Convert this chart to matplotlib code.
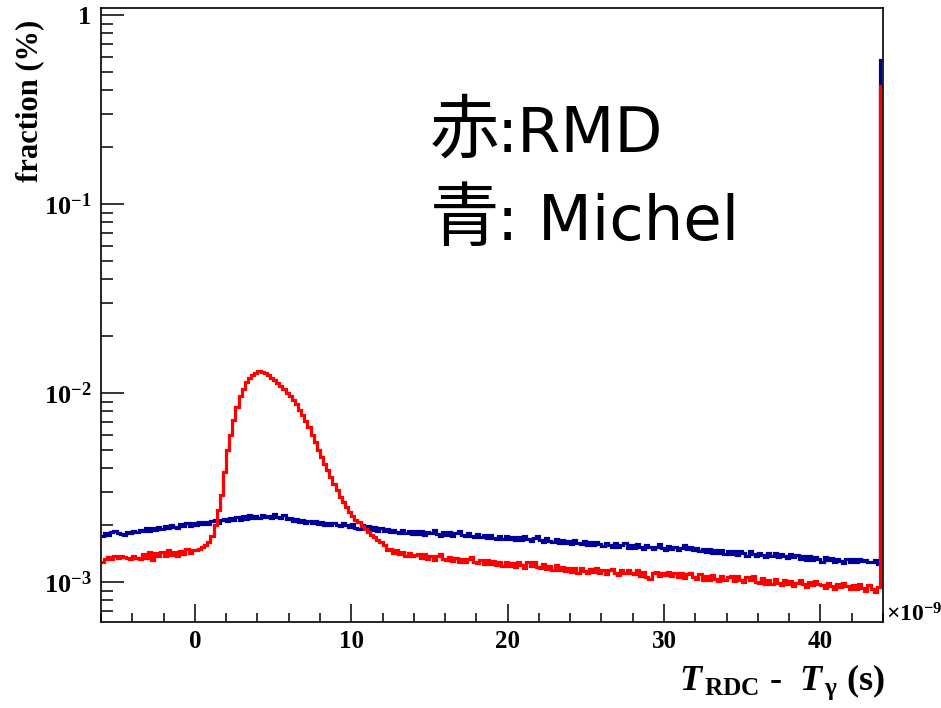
import matplotlib

matplotlib.use("Agg")

import matplotlib.pyplot as plt
import numpy as np
from matplotlib.ticker import LogLocator, MultipleLocator, NullFormatter

# histogram range in units of 1e-9 s, 0.2 ns bins
t_lo = -6.0
t_hi = 44.0

# fraction (%) per bin, in units of 1e-3; the last bin is the overflow spike
michel = [
    1.76, 1.81, 1.78, 1.84, 1.86, 1.81, 1.79, 1.78, 1.84, 1.82,
    1.87, 1.83, 1.89, 1.85, 1.92, 1.86, 1.93, 1.88, 1.95, 1.91,
    1.97, 1.92, 1.99, 1.96, 1.93, 2.02, 1.97, 2.04, 1.98, 2.05,
    2.00, 2.07, 2.02, 2.08, 2.03, 2.10, 2.13, 2.06, 2.14, 2.16,
    2.11, 2.18, 2.12, 2.21, 2.14, 2.23, 2.16, 2.25, 2.17, 2.24,
    2.19, 2.27, 2.20, 2.24, 2.18, 2.28, 2.21, 2.19, 2.26, 2.16,
    2.18, 2.10, 2.15, 2.08, 2.12, 2.06, 2.11, 2.04, 2.09, 2.03,
    2.07, 2.01, 2.05, 1.99, 2.05, 2.01, 1.97, 2.04, 1.99, 1.95,
    2.02, 1.94, 1.91, 2.00, 1.92, 1.97, 1.89, 1.95, 1.87, 1.93,
    1.85, 1.91, 1.84, 1.89, 1.83, 1.81, 1.88, 1.82, 1.87, 1.80,
    1.86, 1.79, 1.85, 1.78, 1.84, 1.81, 1.88, 1.80, 1.76, 1.83,
    1.78, 1.83, 1.75, 1.81, 1.85, 1.77, 1.74, 1.81, 1.76, 1.73,
    1.79, 1.72, 1.78, 1.71, 1.77, 1.70, 1.68, 1.75, 1.69, 1.74,
    1.68, 1.73, 1.67, 1.72, 1.66, 1.74, 1.68, 1.65, 1.71, 1.75,
    1.67, 1.63, 1.70, 1.64, 1.62, 1.68, 1.61, 1.66, 1.60, 1.65,
    1.59, 1.66, 1.61, 1.58, 1.64, 1.57, 1.63, 1.56, 1.62, 1.59,
    1.55, 1.61, 1.57, 1.54, 1.60, 1.53, 1.57, 1.61, 1.52, 1.56,
    1.51, 1.58, 1.54, 1.50, 1.57, 1.53, 1.49, 1.53, 1.58, 1.51,
    1.48, 1.55, 1.50, 1.54, 1.47, 1.52, 1.56, 1.49, 1.53, 1.47,
    1.52, 1.46, 1.50, 1.44, 1.49, 1.43, 1.48, 1.42, 1.47, 1.41,
    1.46, 1.40, 1.45, 1.39, 1.46, 1.42, 1.38, 1.45, 1.41, 1.37,
    1.43, 1.39, 1.36, 1.42, 1.38, 1.43, 1.35, 1.41, 1.37, 1.34,
    1.40, 1.35, 1.39, 1.32, 1.38, 1.31, 1.37, 1.30, 1.36, 1.32,
    1.28, 1.35, 1.30, 1.34, 1.27, 1.33, 1.29, 1.26, 1.32, 1.28,
    1.32, 1.28, 1.33, 1.29, 1.31, 1.28, 1.27, 1.30, 1.25, 578.0,
]

rmd = [
    1.27, 1.33, 1.36, 1.33, 1.37, 1.34, 1.38, 1.35, 1.34, 1.32,
    1.37, 1.34, 1.32, 1.40, 1.34, 1.44, 1.30, 1.42, 1.37, 1.44,
    1.38, 1.47, 1.39, 1.44, 1.38, 1.45, 1.40, 1.50, 1.43, 1.48,
    1.48, 1.50, 1.53, 1.57, 1.63, 1.75, 2.00, 2.40, 2.90, 3.80,
    5.00, 6.00, 7.20, 8.40, 9.60, 10.5, 11.4, 12.0, 12.5, 12.8,
    13.0, 12.95, 12.7, 12.4, 12.0, 11.7, 11.3, 10.9, 10.5, 10.0,
    9.60, 9.20, 8.70, 8.10, 7.60, 7.10, 6.60, 6.00, 5.50, 5.00,
    4.60, 4.20, 3.90, 3.60, 3.30, 3.05, 2.80, 2.65, 2.50, 2.35,
    2.22, 2.12, 2.07, 1.98, 1.90, 1.84, 1.78, 1.72, 1.66, 1.62,
    1.56, 1.48, 1.50, 1.43, 1.47, 1.40, 1.44, 1.38, 1.42, 1.37,
    1.39, 1.41, 1.34, 1.40, 1.33, 1.38, 1.31, 1.37, 1.40, 1.32,
    1.30, 1.36, 1.29, 1.34, 1.28, 1.33, 1.27, 1.32, 1.35, 1.28,
    1.26, 1.31, 1.25, 1.30, 1.24, 1.29, 1.23, 1.28, 1.22, 1.27,
    1.21, 1.26, 1.20, 1.28, 1.23, 1.19, 1.27, 1.22, 1.28, 1.20,
    1.18, 1.24, 1.17, 1.22, 1.16, 1.23, 1.15, 1.20, 1.14, 1.19,
    1.13, 1.19, 1.12, 1.18, 1.14, 1.11, 1.17, 1.13, 1.18, 1.11,
    1.16, 1.10, 1.15, 1.17, 1.12, 1.09, 1.15, 1.11, 1.16, 1.12,
    1.10, 1.15, 1.08, 1.13, 1.06, 1.04, 1.11, 1.13, 1.07, 1.12,
    1.09, 1.13, 1.07, 1.12, 1.06, 1.11, 1.05, 1.10, 1.12, 1.06,
    1.04, 1.10, 1.03, 1.08, 1.02, 1.09, 1.04, 1.01, 1.07, 1.03,
    1.06, 1.08, 1.01, 1.07, 1.03, 1.00, 1.06, 1.02, 1.07, 1.00,
    0.99, 1.05, 0.98, 1.03, 0.97, 1.04, 0.99, 0.96, 1.02, 0.97,
    1.01, 0.95, 0.99, 1.02, 0.97, 0.94, 1.00, 0.96, 1.01, 0.97,
    0.96, 0.93, 0.99, 0.95, 0.92, 0.98, 0.94, 0.99, 0.95, 0.92,
    0.96, 0.92, 0.97, 0.93, 0.90, 0.96, 0.92, 0.89, 0.94, 420.0,
]

x_ticks = [0, 10, 20, 30, 40]
y_ticks = [1e-3, 1e-2, 1e-1, 1.0]
y_tick_labels = [r"$\mathbf{10^{-3}}$", r"$\mathbf{10^{-2}}$", r"$\mathbf{10^{-1}}$", r"$\mathbf{1}$"]

plt.rcParams["font.family"] = "Liberation Serif"
plt.rcParams["font.weight"] = "bold"
plt.rcParams["mathtext.fontset"] = "custom"
plt.rcParams["mathtext.rm"] = "Liberation Serif:bold"
plt.rcParams["mathtext.bf"] = "Liberation Serif:bold"
plt.rcParams["mathtext.it"] = "Liberation Serif:italic:bold"


def main() -> None:
    fig = plt.figure(figsize=(9.41, 7.08), dpi=100)
    ax = fig.add_axes([0.1073, 0.1215, 0.8311, 0.8672])

    edges = np.linspace(t_lo, t_hi, len(michel) + 1)
    ax.stairs(np.array(michel) * 1e-3, edges, baseline=None, color="#000099", lw=2.3)
    ax.stairs(np.array(rmd) * 1e-3, edges, baseline=None, color="#ff0000", lw=2.3)

    ax.set_yscale("log")
    ax.set_xlim(t_lo, t_hi)
    ax.set_ylim(6.14e-4, 1.089)

    ax.set_xticks(x_ticks)
    ax.set_xticklabels([str(t) for t in x_ticks])
    ax.xaxis.set_minor_locator(MultipleLocator(2))
    ax.set_yticks(y_ticks, labels=y_tick_labels)
    ax.yaxis.set_minor_locator(LogLocator(base=10, subs=np.arange(2, 10)))
    ax.yaxis.set_minor_formatter(NullFormatter())

    ax.tick_params(axis="x", which="major", direction="in", length=13, width=1.1,
                   labelsize=18, pad=6, top=False)
    ax.tick_params(axis="x", which="minor", direction="in", length=6.5, width=1.1, top=False)
    ax.tick_params(axis="y", which="major", direction="in", length=16.5, width=1.1,
                   labelsize=19, pad=7, right=False)
    ax.tick_params(axis="y", which="minor", direction="in", length=8.5, width=1.1, right=False)
    for spine in ax.spines.values():
        spine.set_linewidth(1.2)

    ax.text(1.004, 0.0, r"$\times\mathbf{10^{-9}}$", transform=ax.transAxes,
            ha="left", va="baseline", fontsize=17)

    fig.text(30 / 941, 1 - 20 / 708, "fraction (%)", rotation=90,
             ha="center", va="top", fontsize=22)
    fig.text(885 / 941, 1 - 690 / 708,
             r"$T_{\,\mathrm{RDC}}$ -  $T_{\,\mathrm{\gamma}}$ (s)",
             ha="right", va="baseline", fontsize=26)

    # legend written as plain text in the plot
    fig.text(430 / 941, 1 - 152 / 708, "赤", family="Noto Sans CJK JP",
             weight="normal", fontsize=50, va="baseline", ha="left")
    fig.text(497 / 941, 1 - 152 / 708, ":RMD", family="DejaVu Sans",
             weight="normal", fontsize=45, va="baseline", ha="left")
    fig.text(430 / 941, 1 - 240 / 708, "青", family="Noto Sans CJK JP",
             weight="normal", fontsize=50, va="baseline", ha="left")
    fig.text(497 / 941, 1 - 240 / 708, ": Michel", family="DejaVu Sans",
             weight="normal", fontsize=45, va="baseline", ha="left")

    fig.savefig("out.png", dpi=100)
    plt.close(fig)


if __name__ == "__main__":
    main()
